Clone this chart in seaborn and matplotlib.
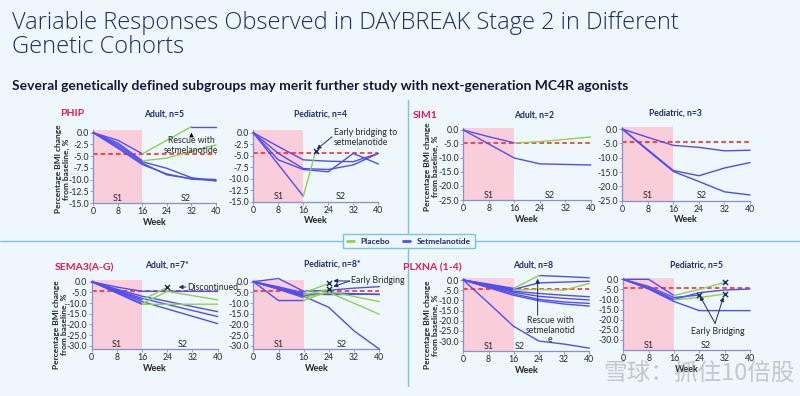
import pandas as pd
import matplotlib.pyplot as plt
import seaborn as sns
from matplotlib.lines import Line2D

sns.set_theme(style="white")
plt.rcParams['font.family'] = ['Lato', 'DejaVu Sans']
plt.rcParams['axes.unicode_minus'] = False

SET, PBO = "Setmelanotide", "Placebo"
PALETTE = {PBO: "#92d050", SET: "#4f4ff0"}
BG = "#edf7fc"
PINK = "#f9cdd9"
NAVY = "#1f2a6b"
RED = "#e8185a"
SPINE = "#8c8cd0"
REF_LINE = -4.5

# each segment: (patient, arm, weeks, % BMI change)
PHIP_ADULT = [
    ("a", SET, [0, 8, 16], [0, -1.6, -4.5]),
    ("a", PBO, [16, 32], [-4.5, 1.3]),
    ("a", SET, [32, 40], [1.3, 1.3]),
    ("b", SET, [0, 8, 16], [0, -2.2, -6.0]),
    ("b", PBO, [16, 24, 40], [-6.0, -5.4, -2.6]),
    ("c", SET, [0, 8, 16, 24, 32, 40], [0, -3.0, -6.5, -9.0, -9.8, -10.0]),
    ("d", SET, [0, 8, 16, 24, 32, 40], [0, -2.6, -6.2, -7.6, -9.6, -10.3]),
    ("e", SET, [0, 8, 16, 24, 32, 40], [0, -3.3, -6.8, -8.8, -9.9, -10.2]),
]
PHIP_PED = [
    ("a", SET, [0, 8, 16, 24, 32, 40], [0, -3.0, -5.9, -6.2, -6.3, -4.5]),
    ("b", SET, [0, 8, 16, 24, 32, 40], [0, -5.9, -8.0, -8.5, -4.5, -6.8]),
    ("c", SET, [0, 8, 16, 24, 32, 40], [0, -4.5, -7.8, -8.0, -7.0, -4.5]),
    ("d", SET, [0, 8, 16], [0, -6.9, -13.8]),
    ("d", PBO, [16, 20], [-13.8, -4.0]),
]
SIM1_ADULT = [
    ("a", SET, [0, 8, 16], [0, -2.4, -4.6]),
    ("a", PBO, [16, 24, 40], [-4.6, -4.2, -2.5]),
    ("b", SET, [0, 8, 16, 24, 40], [0, -5.0, -10.0, -12.1, -12.5]),
]
SIM1_PED = [
    ("a", SET, [0, 8, 16, 24, 32, 40], [0, -2.9, -5.7, -6.4, -7.6, -7.4]),
    ("b", SET, [0, 8, 16, 24, 32, 40], [0, -7.2, -14.5, -16.3, -13.6, -11.7]),
    ("c", SET, [0, 8, 16, 24, 32, 40], [0, -7.5, -14.8, -18.3, -21.9, -23.0]),
]
SEMA3_ADULT = [
    ("a", SET, [0, 8, 16, 24, 32, 40], [0, -2.5, -4.5, -4.5, -4.5, -4.5]),
    ("b", SET, [0, 8, 16], [0, -4.2, -8.5]),
    ("b", PBO, [16, 24], [-8.5, -2.6]),
    ("c", SET, [0, 8, 16], [0, -5.0, -10.3]),
    ("c", PBO, [16, 24, 40], [-10.3, -4.5, -8.5]),
    ("d", SET, [0, 8, 16], [0, -5.3, -10.6]),
    ("d", PBO, [16, 40], [-10.6, -10.5]),
    ("e", SET, [0, 8, 16, 40], [0, -3.5, -6.8, -14.0]),
    ("f", SET, [0, 8, 16, 40], [0, -3.9, -7.8, -16.3]),
    ("g", SET, [0, 8, 16, 40], [0, -4.6, -9.3, -19.6]),
]
SEMA3_PED = [
    ("a", SET, [0, 8, 16, 24, 32, 40], [0, 1.5, -4.5, -4.0, -3.0, -2.3]),
    ("b", SET, [0, 8, 16], [0, -8.8, -8.8]),
    ("b", PBO, [16, 24, 40], [-8.8, -4.5, -9.3]),
    ("c", SET, [0, 8, 16, 24, 32, 40], [0, -3.2, -6.8, -12.0, -23.0, -31.5]),
    ("d", SET, [0, 8, 16, 24, 40], [0, -2.8, -5.8, -6.0, -5.8]),
    ("e", SET, [0, 8, 16, 24, 40], [0, -3.3, -6.5, -5.2, -6.0]),
    ("f", SET, [0, 8, 16], [0, -2.4, -5.2]),
    ("f", PBO, [16, 24], [-5.2, -0.8]),
    ("g", SET, [0, 8, 16], [0, -2.9, -6.2]),
    ("g", PBO, [16, 24], [-6.2, -3.6]),
    ("h", SET, [0, 8, 16], [0, -3.6, -7.4]),
    ("h", PBO, [16, 24, 40], [-7.4, -5.0, -15.2]),
]
PLXNA_ADULT = [
    ("a", SET, [0, 8, 16], [0, -2.0, -4.1]),
    ("a", PBO, [16, 24], [-4.1, 2.2]),
    ("a", SET, [24, 32, 40], [2.2, 1.7, 1.1]),
    ("b", SET, [0, 8, 16, 24, 32, 40], [0, -2.3, -4.6, -1.4, -1.0, -0.6]),
    ("c", SET, [0, 8, 16], [0, -2.5, -5.0]),
    ("c", PBO, [16, 24, 32, 40], [-5.0, -4.6, -5.0, -1.6]),
    ("d", SET, [0, 8, 16, 24, 32, 40], [0, -3.0, -6.0, -8.0, -9.0, -9.8]),
    ("e", SET, [0, 8, 16, 24, 32, 40], [0, -3.4, -6.8, -9.5, -10.8, -11.5]),
    ("f", SET, [0, 8, 16, 24, 32, 40], [0, -3.8, -7.5, -10.2, -11.8, -12.8]),
    ("g", SET, [0, 8, 16, 24, 32, 40], [0, -11.3, -22.8, -30.0, -31.5, -33.5]),
    ("h", SET, [0, 8, 16, 24, 32, 40], [0, -2.8, -5.5, -6.6, -7.5, -8.2]),
]
PLXNA_PED = [
    ("a", SET, [0, 8, 16], [0, 0, -8.0]),
    ("a", PBO, [16, 24, 32], [-8.0, -5.0, -1.5]),
    ("b", SET, [0, 8, 16], [0, -4.5, -10.2]),
    ("b", PBO, [16, 24, 32], [-10.2, -9.0, -7.3]),
    ("c", SET, [0, 8, 16, 24], [0, -3.5, -9.0, -7.8]),
    ("d", SET, [0, 8, 16, 24, 32, 40], [0, -4.2, -10.0, -6.6, -5.3, -4.8]),
    ("e", SET, [0, 8, 16, 24, 32, 40], [0, -4.8, -11.0, -15.5, -15.5, -15.5]),
]

# "X" markers (early bridging / discontinued)
PHIP_PED_X = ([20], [-4.0])
SEMA3_ADULT_X = ([24], [-2.6])
SEMA3_PED_X = ([24, 24], [-0.8, -3.6])
PLXNA_PED_X = ([24, 32, 32], [-7.8, -1.5, -7.3])

W, H = 800, 396
fig = plt.figure(figsize=(8, 3.96), dpi=100, facecolor=BG)


def ftext(x, y, s, **kw):
    return fig.text(x / W, 1 - y / H, s, **kw)


def to_df(segs):
    rows = []
    for i, (pid, arm, wk, val) in enumerate(segs):
        for w, v in zip(wk, val):
            rows.append({"seg": i, "arm": arm, "week": w, "bmi": v})
    return pd.DataFrame(rows)


# key: (segments, markers, pixel box x0, x1, ytop, ybot, ylim, ytick step, ylabel, S2 week)
PANELS = {
    "phip_a": (PHIP_ADULT, None, (93.3, 216, 130.4, 203), (-15, 0.5), 2.5, True, 30),
    "phip_p": (PHIP_PED, PHIP_PED_X, (253.3, 378.3, 130.4, 201.7), (-15, 0.5), 2.5, False, 28),
    "sim1_a": (SIM1_ADULT, None, (463.3, 590.7, 128.3, 200), (-25, 0.6), 5, True, 27),
    "sim1_p": (SIM1_PED, None, (622.3, 750, 127.3, 200.7), (-25, 0.6), 5, False, 25),
    "sema_a": (SEMA3_ADULT, SEMA3_ADULT_X, (91.7, 217.7, 280, 349.1), (-31.5, 0.8), 5, True, 29),
    "sema_p": (SEMA3_PED, SEMA3_PED_X, (253.3, 379.3, 280, 349.1), (-31.5, 0.8), 5, False, 28),
    "plx_a": (PLXNA_ADULT, None, (463.3, 589.3, 278.4, 351.2), (-35, 0.8), 5, True, 18),
    "plx_p": (PLXNA_PED, PLXNA_PED_X, (623.3, 750, 277.7, 350), (-35, 0.8), 5, False, 26),
}

axes = {}
for key, (segs, marks, box, ylim, step, ylab, s2) in PANELS.items():
    x0, x1, yt, yb = box
    ax = fig.add_axes([x0 / W, 1 - yb / H, (x1 - x0) / W, (yb - yt) / H])
    ax.set_facecolor("none")
    ax.axvspan(0, 16, color=PINK, lw=0, zorder=0)
    ax.axhline(REF_LINE, color="#ff1a1a", lw=1.1, ls=(0, (3, 2)), zorder=1)
    sns.lineplot(data=to_df(segs), x="week", y="bmi", hue="arm", units="seg",
                 estimator=None, sort=False, palette=PALETTE, linewidth=1.0,
                 legend=False, ax=ax, zorder=3)
    for ln in ax.lines:
        ln.set_clip_on(False)
    if marks:
        ax.scatter(marks[0], marks[1], marker="x", s=14, color=NAVY, lw=1.0,
                   zorder=5, clip_on=False)
    ax.set_xlim(0, 40)
    ax.set_ylim(*ylim)
    ax.set_xticks(range(0, 41, 8))
    lo = -30 if ylim[0] < -30 else ylim[0]
    ticks = [-i * step for i in range(int(round(-lo / step)) + 1)]
    ax.set_yticks(ticks)
    ax.set_yticklabels([f"{t:.1f}" for t in ticks])
    ax.tick_params(labelsize=6.3, length=2, width=0.6, color=SPINE, pad=1,
                   left=True, bottom=True)
    sns.despine(ax=ax)
    for s in ("left", "bottom"):
        ax.spines[s].set_color(SPINE)
        ax.spines[s].set_linewidth(0.9)
    ax.set_xlabel("Week", fontsize=6.5, fontweight="bold", labelpad=1)
    ax.set_ylabel("")
    tr = ax.get_xaxis_transform()
    ax.text(8, 0.005, "S1", transform=tr, ha="center", va="bottom", fontsize=6.5)
    ax.text(s2, 0.005, "S2", transform=tr, ha="center", va="bottom", fontsize=6.5)
    if ylab:
        ax.text(-0.25, 0.47 if yt < 240 else 0.36,
                "Percentage BMI change\nfrom baseline, %", transform=ax.transAxes,
                rotation=90, ha="center", va="center", fontsize=6,
                fontweight="bold", linespacing=1.1)
    axes[key] = ax

arrow = dict(arrowstyle="-|>", color=NAVY, lw=0.7, mutation_scale=6, shrinkA=0, shrinkB=0)

ax = axes["phip_a"]
ax.annotate("", xy=(32, 0.6), xytext=(32, -0.9),
            arrowprops=dict(arrowstyle="-|>", color="black", lw=0.6, mutation_scale=6))
ax.text(31.9, -2.75, "Rescue with\nsetmelanotide", ha="center", va="center",
        fontsize=6.3, linespacing=1.15)

ax = axes["phip_p"]
ax.text(25.8, -1.0, "Early bridging to\nsetmelanotide", ha="left", va="center",
        fontsize=6.3, linespacing=1.15)
ax.annotate("", xy=(20.3, -3.6), xytext=(25.2, -0.9), arrowprops=arrow)

ax = axes["sema_a"]
ax.annotate("", xy=(27.6, -2.5), xytext=(29.9, -2.5), arrowprops=arrow)
ax.text(30.3, -2.5, "Discontinued", ha="left", va="center", fontsize=6.3)

ax = axes["sema_p"]
ax.text(31.0, 0.4, "Early Bridging", ha="left", va="center", fontsize=6.3)
ax.annotate("", xy=(25.4, 0.4), xytext=(30.6, 0.3), arrowprops=arrow)
ax.annotate("", xy=(25.4, -2.3), xytext=(30.6, 0.3), arrowprops=arrow)

ax = axes["plx_a"]
ax.annotate("", xy=(23.6, 2.0), xytext=(23.6, -18.7), annotation_clip=False,
            arrowprops=dict(arrowstyle="-|>", color=NAVY, lw=0.7, mutation_scale=6))
ax.text(27.6, -24.6, "Rescue with\nsetmelanotid\ne", ha="center", va="center",
        fontsize=6.3, linespacing=1.1)

ax = axes["plx_p"]
ax.text(29.7, -25.9, "Early Bridging", ha="center", va="center", fontsize=6.3)
ax.annotate("", xy=(24.2, -8.3), xytext=(29.0, -21.8), arrowprops=arrow)
ax.annotate("", xy=(31.6, -8.8), xytext=(29.0, -21.8), arrowprops=arrow)

# titles
ftext(12, 35, "Variable Responses Observed in DAYBREAK Stage 2 in Different\nGenetic Cohorts",
      family=["Open Sans", "Lato", "DejaVu Sans"], fontsize=17, fontweight="light",
      color=NAVY, va="center", linespacing=0.95)
ftext(12, 86, "Several genetically defined subgroups may merit further study with "
      "next-generation MC4R agonists", fontsize=10, fontweight="bold",
      color="#15153a", va="center")

HEADERS = [
    ("PHIP", 60, 114, "left"), ("Adult, n=5", 164, 114, "center"),
    ("Pediatric, n=4", 320, 114, "center"), ("SIM1", 413, 115, "left"),
    ("Adult, n=2", 534, 115, "center"), ("Pediatric, n=3", 675, 113, "center"),
    ("SEMA3(A-G)", 55, 268, "left"), ("Adult, n=7*", 167, 265, "center"),
    ("Pediatric, n=8*", 332, 264, "center"), ("PLXNA (1-4)", 403, 268, "left"),
    ("Adult, n=8", 533, 265, "center"), ("Pediatric, n=5", 697, 265, "center"),
]
for text, x, y, ha in HEADERS:
    group = ha == "left"
    ftext(x, y, text, ha=ha, va="center", fontweight="bold",
          fontsize=7.5 if group else 6.2, color=RED if group else NAVY)

# dividers
fig.add_artist(Line2D([0, 1], [1 - 241 / H] * 2, color="#7cc3dc", lw=1.0, zorder=1))
fig.add_artist(Line2D([408 / W] * 2, [1 - 100 / H, 1 - 386 / H], color="#7cc3dc", lw=1.0, zorder=1))

handles = [Line2D([], [], color=PALETTE[PBO], lw=2), Line2D([], [], color=PALETTE[SET], lw=2)]
leg = fig.legend(handles, [PBO, SET], loc="center", bbox_to_anchor=(409 / W, 1 - 241 / H),
                 ncol=2, fontsize=6, frameon=True, handlelength=0.8, handletextpad=0.8,
                 columnspacing=1.6, borderpad=0.45, fancybox=False)
leg.get_frame().set_edgecolor("#7cc3dc")
leg.get_frame().set_facecolor(BG)
leg.get_frame().set_alpha(1)
leg.set_zorder(10)
for t in leg.get_texts():
    t.set_fontweight("bold")
    t.set_color(NAVY)

ftext(603, 374, "雪球：抓住10倍股", family=["Noto Sans CJK SC", "DejaVu Sans"],
      fontsize=17, color="#9a9a9a", alpha=0.5, va="center")

fig.savefig("out.png", dpi=100, facecolor=BG)
